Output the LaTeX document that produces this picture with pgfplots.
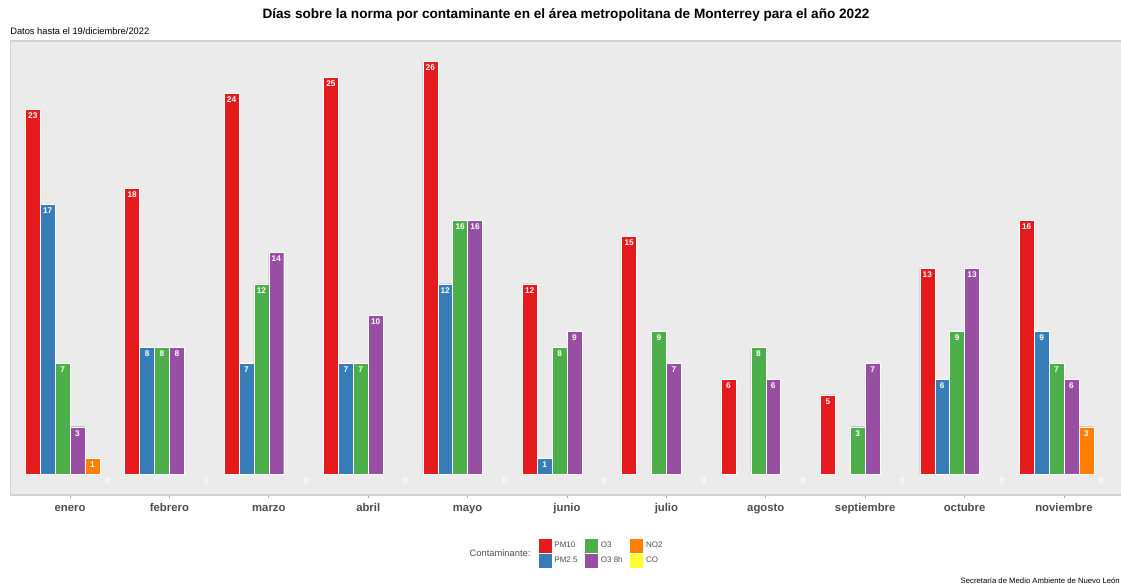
\documentclass[border=0pt]{standalone}
\usepackage{pgfplots}
\pgfplotsset{compat=1.18}
\usepackage{fontspec}
\setmainfont{Liberation Sans}

\definecolor{panel}{HTML}{EBEBEB}
\definecolor{pmdiez}{HTML}{E41A1C}
\definecolor{pmdos}{HTML}{377EB8}
\definecolor{otres}{HTML}{4DAF4A}
\definecolor{otresh}{HTML}{984EA3}
\definecolor{nodos}{HTML}{FF7F00}
\definecolor{cox}{HTML}{FFFF33}
\definecolor{ticklab}{HTML}{4D4D4D}

\pgfplotsset{
  mybar/.style={fill=#1, draw=white, line width=0.35pt,
    legend image code/.code={\draw[fill=#1, draw=white, line width=0.5pt] (0pt,-5.4pt) rectangle (10.5pt,5.4pt);}},
}

\begin{document}
\begin{tikzpicture}
\useasboundingbox (0,0) rectangle (840.75pt,440.25pt);
\begin{axis}[
  at={(7.8pt,69pt)}, anchor=south west,
  scale only axis, width=834.9pt, height=340.5pt,
  ybar, bar width=0.15,
  xmin=-0.6, xmax=10.6, ymin=-1.3, ymax=27.3,
  axis background/.style={fill=panel},
  axis line style={draw=gray!35, line width=1pt},
  ytick=\empty,
  xtick={0,...,10},
  xticklabels={enero,febrero,marzo,abril,mayo,junio,julio,agosto,septiembre,octubre,noviembre},
  xtick pos=bottom, tick align=outside, major tick length=2.5pt,
  xtick style={draw=gray!70, line width=0.5pt},
  xticklabel style={font=\fontsize{8.5}{10}\selectfont\bfseries, text=ticklab,
    text height=1.6ex, text depth=0.3ex, yshift=1.8pt},
  /pgf/number format/assume math mode=true,
  nodes near coords,
  nodes near coords style={anchor=north, text=white, font=\fontsize{6.2}{6.2}\selectfont\bfseries, inner sep=1pt, yshift=-1.5pt},
  legend columns=2, transpose legend,
  legend style={at={(0.4735,-0.095)}, anchor=north west, draw=none, fill=none,
    inner sep=0pt, row sep=0pt, column sep=0pt,
    font=\fontsize{6}{7}\selectfont, text=ticklab,
    nodes={inner sep=1.5pt},
    /tikz/every even column/.append style={column sep=3.5pt}},
  legend cell align=left,
]
\addplot[mybar=pmdiez, bar shift=-0.375] coordinates {(0,23)(1,18)(2,24)(3,25)(4,26)(5,12)(6,15)(7,6)(8,5)(9,13)(10,16)};
\addplot[mybar=pmdos, bar shift=-0.225] coordinates {(0,17)(1,8)(2,7)(3,7)(4,12)(5,1)(9,6)(10,9)};
\addplot[mybar=otres, bar shift=-0.075] coordinates {(0,7)(1,8)(2,12)(3,7)(4,16)(5,8)(6,9)(7,8)(8,3)(9,9)(10,7)};
\addplot[mybar=otresh, bar shift=0.075] coordinates {(0,3)(1,8)(2,14)(3,10)(4,16)(5,9)(6,7)(7,6)(8,7)(9,13)(10,6)};
\addplot[mybar=nodos, bar shift=0.225] coordinates {(0,1)(10,3)};
\addplot[mybar=cox, draw=none, bar shift=0.375] coordinates {(0,0)(1,0)(2,0)(3,0)(4,0)(5,0)(6,0)(7,0)(8,0)(9,0)(10,0)};
\legend{PM10,PM2.5,O3,O3 8h,NO2,CO}
\end{axis}
\node[font=\fontsize{10.2}{12}\selectfont\bfseries] at (424.5pt,429pt) {Días sobre la norma por contaminante en el área metropolitana de Monterrey para el año 2022};
\node[anchor=west, inner sep=0pt, font=\fontsize{7}{8}\selectfont] at (7.5pt,417pt) {Datos hasta el 19/diciembre/2022};
\node[anchor=east, inner sep=0pt, font=\fontsize{7}{8}\selectfont, text=ticklab] at (398pt,25.5pt) {Contaminante:};
\node[anchor=east, inner sep=0pt, font=\fontsize{5.8}{6}\selectfont] at (840pt,4.5pt) {Secretaría de Medio Ambiente de Nuevo León};
\end{tikzpicture}
\end{document}
